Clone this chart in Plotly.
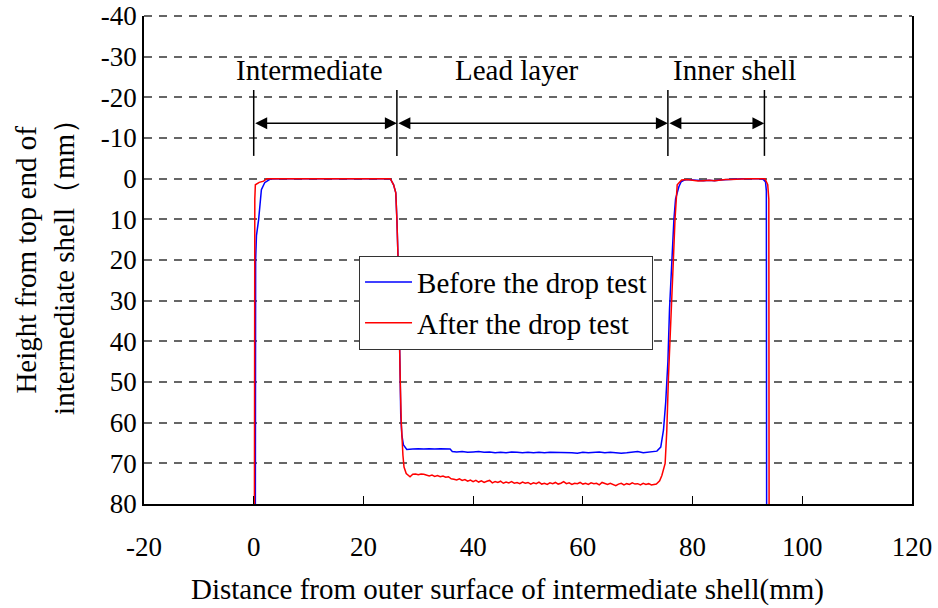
import plotly.graph_objects as go

# ---------------- data ----------------
before_x = [0.3, 0.35, 0.5, 0.9, 1.4, 2.0, 3.0, 5, 10, 15, 20, 23, 24.9, 25.5, 25.9, 26.1, 26.3, 26.7,
            26.8, 27.0, 27.3, 27.9, 28.5, 29, 30, 31, 32, 33, 34, 35, 35.8, 36.2, 37, 38, 39, 40, 41, 42,
            43, 44, 45, 46, 47, 48, 49, 50, 51, 52, 53, 54, 55, 56, 57, 58, 59, 60, 61, 62, 63, 64, 65,
            66, 67, 68, 69, 70, 71, 72, 73, 73.5, 74.2, 74.7, 75.1, 75.5, 75.8, 76.2, 76.6, 76.9, 77.2,
            77.5, 77.9, 78.4, 79, 80, 81, 82, 83, 84, 85, 86, 87, 88, 89, 90, 91, 92.3, 92.9, 93.3, 93.45,
            93.5]
before_y = [80, 20, 14, 10, 2.7, 1.0, 0.1, 0, 0, 0, 0, 0, 0, 1.5, 3.5, 10, 19, 49,
            58, 63, 65.5, 66.6, 66.6, 66.5, 66.4, 66.5, 66.4, 66.5, 66.4, 66.4, 66.5, 67.1, 67.2, 67.1,
            67.3, 67.2, 67.1, 67.3, 67.2, 67.4, 67.3, 67.4, 67.2, 67.3, 67.4, 67.3, 67.4, 67.3, 67.4,
            67.3, 67.3, 67.4, 67.3, 67.4, 67.5, 67.3, 67.4, 67.3, 67.2, 67.4, 67.3, 67.4, 67.5, 67.4,
            67.3, 67.1, 67.4, 67.2, 67.1, 67.0, 66.0, 61.8, 55, 45, 32, 20, 10, 5, 3.5,
            2.0, 0.8, 0.4, 0.2, 0.3, 0.5, 0.5, 0.4, 0.5, 0.3, 0.2, 0.1, 0.1, 0.0, 0.0, 0.0, 0.0, 0.2, 0.8,
            3, 80]

after_x = [0.13, 0.15, 0.2, 0.3, 1.0, 1.8, 2.4, 5, 10, 15, 20, 23, 24.9, 25.5, 25.9, 26.1, 26.3, 26.7,
           26.9, 27.2, 27.4, 27.8, 28.5,
           29.0, 29.5, 30.0, 30.5, 31.0, 31.5, 32.0, 32.5, 33.0, 33.5, 34.0, 34.5, 35.0, 35.5, 36.0,
           36.5, 37.0, 37.5, 38.0, 38.5, 39.0, 39.5, 40.0, 40.5, 41.0, 41.5, 42.0, 42.5, 43.0, 43.5,
           44.0, 44.5, 45.0, 45.5, 46.0, 46.5, 47.0, 47.5, 48.0, 48.5, 49.0, 49.5, 50.0, 50.5, 51.0,
           51.5, 52.0, 52.5, 53.0, 53.5, 54.0, 54.5, 55.0, 55.5, 56.0, 56.5, 57.0, 57.5, 58.0, 58.5,
           59.0, 59.5, 60.0, 60.5, 61.0, 61.5, 62.0, 62.5, 63.0, 63.5, 64.0, 64.5, 65.0, 65.5, 66.0,
           66.5, 67.0, 67.5, 68.0, 68.5, 69.0, 69.5, 70.0, 70.5, 71.0, 71.5, 72.0, 72.5, 73.0,
           73.4, 74.0, 74.4, 75.0, 75.3, 75.6, 76.1, 76.5, 76.8, 77.0, 77.2, 78.0, 79, 80, 81, 82, 83,
           84, 85, 86, 87, 88, 89, 90, 91, 92, 93.2, 93.7, 93.9, 93.95]
after_y = [80, 20, 5, 1.5, 0.9, 0.6, 0, 0, 0, 0, 0, 0, 0, 1.5, 3.5, 10, 19, 49,
           60, 68, 70.9, 72.5, 73.3,
           72.7, 72.6, 72.8, 72.6, 72.7, 72.9, 73.1, 72.9, 73.2, 73.0, 73.3, 73.1, 73.4, 73.3, 73.8,
           73.9, 74.1, 73.8, 74.2, 74.0, 74.4, 74.1, 74.5, 74.2, 74.6, 74.3, 74.7, 74.4, 74.2, 74.8,
           74.5, 74.7, 74.4, 74.9, 74.6, 74.8, 74.5, 74.9, 74.7, 75.0, 74.6, 74.9, 74.7, 75.1, 74.8,
           75.0, 74.6, 75.1, 74.9, 75.2, 74.8, 75.0, 74.7, 75.1, 74.9, 74.5, 75.0, 74.8, 75.2, 74.9,
           75.0, 74.7, 75.1, 74.9, 75.2, 74.8, 75.0, 74.9, 75.3, 74.7, 75.0, 75.2, 74.9, 75.3, 75.5,
           75.1, 74.9, 75.3, 75.0, 75.2, 74.8, 75.1, 75.0, 75.3, 74.9, 75.2, 75.0, 75.3, 75.1,
           75.1, 74.3, 73.0, 70.0, 62, 49, 30, 20, 10, 4, 1.5, 0.3, 0.2, 0.4, 0.6, 0.5, 0.4,
           0.5, 0.3, 0.2, 0.2, 0.1, 0.0, 0.0, 0.0, 0.0, 0.0, 1.5, 5, 80]

x_ticks = [-20, 0, 20, 40, 60, 80, 100, 120]
x_tick_text = ["-20", "0", "20", "40", "60", "80", "100", "120"]
y_ticks = [-40, -30, -20, -10, 0, 10, 20, 30, 40, 50, 60, 70, 80]
y_tick_text = ["-40", "-30", "-20", "-10", "0", "10", "20", "30", "40", "50", "60", "70", "80"]

boundaries = [0, 26.1, 75.5, 93.1]
region_labels = ["Intermediate", "Lead layer", "Inner shell"]
region_label_x = [10.1, 48.0, 87.7]
label_y = -26.8
bracket_top, bracket_bottom, arrow_y = -21.8, -5.6, -13.6

FONT = "Liberation Serif, Times New Roman, DejaVu Serif, serif"

fig = go.Figure()
fig.add_trace(go.Scatter(x=before_x, y=before_y, mode="lines", name="Before the drop test",
                         line=dict(color="#0000FF", width=1.5)))
fig.add_trace(go.Scatter(x=after_x, y=after_y, mode="lines", name="After the drop test",
                         line=dict(color="#FF0000", width=1.5)))

shapes = []
for b in boundaries:
    shapes.append(dict(type="line", xref="x", yref="y", x0=b, x1=b, y0=bracket_top, y1=bracket_bottom,
                       line=dict(color="black", width=1.5)))
# dashed top border
shapes.append(dict(type="line", xref="paper", yref="paper", x0=0, x1=1, y0=1, y1=1,
                   line=dict(color="#333333", width=1.5, dash="8px,7px")))

annotations = []
for txt, xx in zip(region_labels, region_label_x):
    annotations.append(dict(x=xx, y=label_y, xref="x", yref="y", text=txt, showarrow=False,
                            font=dict(family=FONT, size=29, color="black")))
for a, b in zip(boundaries[:-1], boundaries[1:]):
    annotations.append(dict(x=b, y=arrow_y, ax=a, ay=arrow_y, xref="x", yref="y", axref="x", ayref="y",
                            text="", showarrow=True, arrowhead=2, startarrowhead=2, arrowside="end+start",
                            arrowsize=1.6, startarrowsize=1.6, arrowwidth=1.5, arrowcolor="black",
                            standoff=0, startstandoff=0))
# axis titles
annotations.append(dict(x=-0.129, y=0.5, xref="paper", yref="paper",
                        text="Height from top end of<br>intermediate shell（mm）",
                        textangle=-90, showarrow=False, xanchor="center", yanchor="middle",
                        font=dict(family=FONT, size=29, color="black")))
annotations.append(dict(x=0.059, y=-0.176, xref="paper", yref="paper",
                        text="Distance from outer surface of intermediate shell(mm)",
                        showarrow=False, xanchor="left", yanchor="middle",
                        font=dict(family=FONT, size=29, color="black")))

fig.update_layout(
    width=938, height=608,
    margin=dict(l=144, r=26, t=16, b=104, autoexpand=False),
    paper_bgcolor="white", plot_bgcolor="white",
    font=dict(family=FONT, size=27, color="black"),
    showlegend=True,
    legend=dict(x=0.28, y=0.509, xanchor="left", yanchor="top", bgcolor="white",
                bordercolor="#333333", borderwidth=1, itemwidth=47,
                font=dict(family=FONT, size=29, color="black")),
    shapes=shapes, annotations=annotations,
)
fig.update_xaxes(range=[-20, 120], tickvals=x_ticks, ticktext=x_tick_text, showgrid=False,
                 zeroline=False, showline=True, linecolor="black", linewidth=1.5,
                 ticks="inside", ticklen=8, tickcolor="black", tickwidth=1, automargin=False,
                 ticklabelstandoff=18)
fig.update_yaxes(range=[80, -40], autorange=False, tickvals=y_ticks, ticktext=y_tick_text,
                 showgrid=True, gridcolor="#666666", gridwidth=1.5, griddash="8px,7px",
                 zeroline=False, showline=True, mirror=True, linecolor="black", linewidth=1.5,
                 ticks="", ticklabelstandoff=0, automargin=False)

fig.write_html("out.html")
